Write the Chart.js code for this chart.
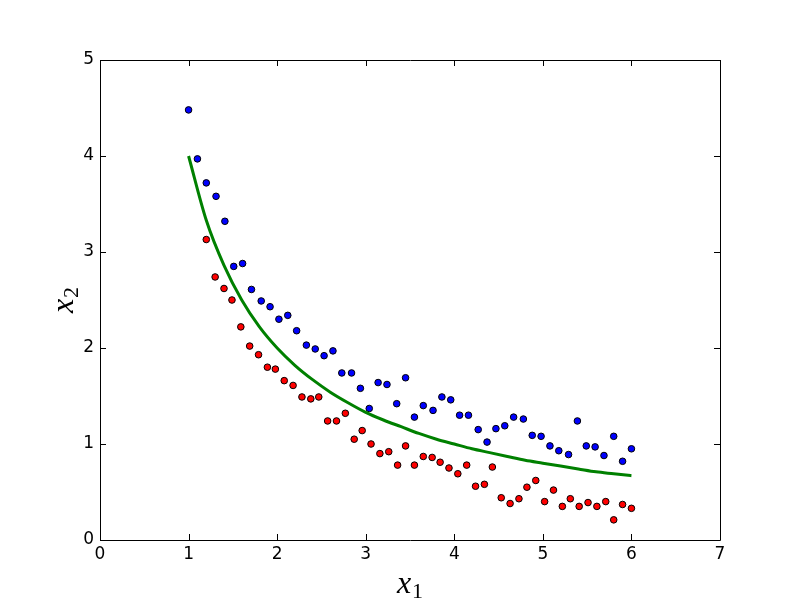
<!DOCTYPE html>
<html>
<head>
<meta charset="utf-8">
<script src="https://cdn.jsdelivr.net/npm/chart.js@4/dist/chart.umd.min.js"></script>
<style>
html,body{margin:0;padding:0;background:#fff;}
canvas{display:block;}
</style>
</head>
<body>
<canvas id="c" width="800" height="600"></canvas>
<script>
// ---- data ----
const blueX = [1.00,1.10,1.20,1.31,1.41,1.51,1.61,1.71,1.82,1.92,2.02,2.12,2.22,2.33,2.43,2.53,2.63,2.73,2.84,2.94,3.04,3.14,3.24,3.35,3.45,3.55,3.65,3.76,3.86,3.96,4.06,4.16,4.27,4.37,4.47,4.57,4.67,4.78,4.88,4.98,5.08,5.18,5.29,5.39,5.49,5.59,5.69,5.80,5.90,6.00];
const blueY = [4.48,3.97,3.72,3.58,3.32,2.85,2.88,2.61,2.49,2.43,2.30,2.34,2.18,2.03,1.99,1.92,1.97,1.74,1.74,1.58,1.37,1.64,1.62,1.42,1.69,1.28,1.40,1.35,1.49,1.46,1.30,1.30,1.15,1.02,1.16,1.19,1.28,1.26,1.09,1.08,0.98,0.93,0.89,1.24,0.98,0.97,0.88,1.08,0.82,0.95];
const redX = [1.20,1.30,1.40,1.49,1.59,1.69,1.79,1.89,1.98,2.08,2.18,2.28,2.38,2.47,2.57,2.67,2.77,2.87,2.96,3.06,3.16,3.26,3.36,3.45,3.55,3.65,3.75,3.84,3.94,4.04,4.14,4.24,4.34,4.43,4.53,4.63,4.73,4.82,4.92,5.02,5.12,5.22,5.31,5.41,5.51,5.61,5.71,5.80,5.90,6.00];
const redY = [3.13,2.74,2.62,2.50,2.22,2.02,1.93,1.80,1.78,1.66,1.61,1.49,1.47,1.49,1.24,1.24,1.32,1.05,1.14,1.00,0.90,0.92,0.78,0.98,0.78,0.87,0.86,0.81,0.75,0.69,0.78,0.56,0.58,0.76,0.44,0.38,0.43,0.55,0.62,0.40,0.52,0.35,0.43,0.35,0.39,0.35,0.40,0.21,0.37,0.33];
const curveX = [1.0,1.2,1.4,1.6,1.8,2.0,2.2,2.4,2.6,2.8,3.0,3.2,3.4,3.6,3.8,4.0,4.2,4.4,4.6,4.8,5.0,5.2,5.4,5.6,5.8,6.0];
const curveY = [4.00,3.33,2.86,2.50,2.22,2.00,1.82,1.67,1.54,1.43,1.33,1.25,1.18,1.11,1.05,1.00,0.95,0.91,0.87,0.83,0.80,0.77,0.74,0.71,0.69,0.67];
const xTicks = [0,1,2,3,4,5,6,7];
const yTicks = [0,1,2,3,4,5];
const xLabel = ['x','1'];
const yLabel = ['x','2'];

const pts = (xs, ys) => xs.map((x, i) => ({x: x, y: ys[i]}));

const framePlugin = {
  id: 'frame',
  afterDraw(chart) {
    const ctx = chart.ctx;
    const a = chart.chartArea;
    const xs = chart.scales.x, ys = chart.scales.y;
    ctx.save();
    ctx.strokeStyle = '#000';
    ctx.lineWidth = 1;
    ctx.beginPath();
    ctx.rect(Math.round(a.left) + 0.5, Math.round(a.top) + 0.5,
             Math.round(a.right - a.left) - 1 + 1, Math.round(a.bottom - a.top));
    ctx.stroke();
    const L = 6;
    ctx.beginPath();
    xs.ticks.forEach(t => {
      const px = Math.round(xs.getPixelForValue(t.value)) + 0.5;
      ctx.moveTo(px, a.bottom); ctx.lineTo(px, a.bottom - L);
      ctx.moveTo(px, a.top); ctx.lineTo(px, a.top + L);
    });
    ys.ticks.forEach(t => {
      const py = Math.round(ys.getPixelForValue(t.value)) + 0.5;
      ctx.moveTo(a.left, py); ctx.lineTo(a.left + L, py);
      ctx.moveTo(a.right, py); ctx.lineTo(a.right - L, py);
    });
    ctx.stroke();
    // axis titles
    ctx.fillStyle = '#000';
    ctx.textBaseline = 'alphabetic';
    const drawLabel = (parts, cx, cy, rot) => {
      ctx.save();
      ctx.translate(cx, cy);
      ctx.rotate(rot);
      ctx.font = 'italic 32px "Liberation Serif"';
      const w1 = ctx.measureText(parts[0]).width;
      ctx.font = '22px "Liberation Serif"';
      const w2 = ctx.measureText(parts[1]).width;
      const start = -(w1 + w2 + 1) / 2;
      ctx.textAlign = 'left';
      ctx.font = 'italic 32px "Liberation Serif"';
      ctx.fillText(parts[0], start, 7);
      ctx.font = '22px "Liberation Serif"';
      ctx.fillText(parts[1], start + w1 + 1, 12);
      ctx.restore();
    };
    drawLabel(xLabel, (a.left + a.right) / 2, 586, 0);
    drawLabel(yLabel, 66, (a.top + a.bottom) / 2, -Math.PI / 2);
    ctx.restore();
  }
};

const tickFont = {family: '"DejaVu Sans"', size: 17};

new Chart(document.getElementById('c'), {
  type: 'scatter',
  data: {
    datasets: [
      {
        type: 'line',
        data: pts(curveX, curveY),
        borderColor: '#008000',
        borderWidth: 3,
        pointRadius: 0,
        fill: false,
        cubicInterpolationMode: 'monotone'
      },
      {
        data: pts(redX, redY),
        backgroundColor: '#ff0000',
        borderColor: '#000000',
        borderWidth: 1,
        pointRadius: 3.3
      },
      {
        data: pts(blueX, blueY),
        backgroundColor: '#0000ff',
        borderColor: '#000000',
        borderWidth: 1,
        pointRadius: 3.3
      }
    ]
  },
  options: {
    responsive: false,
    animation: false,
    devicePixelRatio: 1,
    layout: {padding: {left: 0, top: 60, right: 80, bottom: 0}},
    plugins: {legend: {display: false}, tooltip: {enabled: false}},
    scales: {
      x: {
        type: 'linear', min: 0, max: 7,
        afterBuildTicks: s => { s.ticks = xTicks.map(v => ({value: v})); },
        afterFit: s => { s.height = 60; },
        grid: {display: false, drawTicks: false},
        border: {display: false},
        ticks: {font: tickFont, color: '#000', padding: 4, maxRotation: 0, callback: v => String(v)}
      },
      y: {
        type: 'linear', min: 0, max: 5,
        afterBuildTicks: s => { s.ticks = yTicks.map(v => ({value: v})); },
        afterFit: s => { s.width = 100; },
        grid: {display: false, drawTicks: false},
        border: {display: false},
        ticks: {font: tickFont, color: '#000', padding: 6, callback: v => String(v)}
      }
    }
  },
  plugins: [framePlugin]
});
</script>
</body>
</html>
